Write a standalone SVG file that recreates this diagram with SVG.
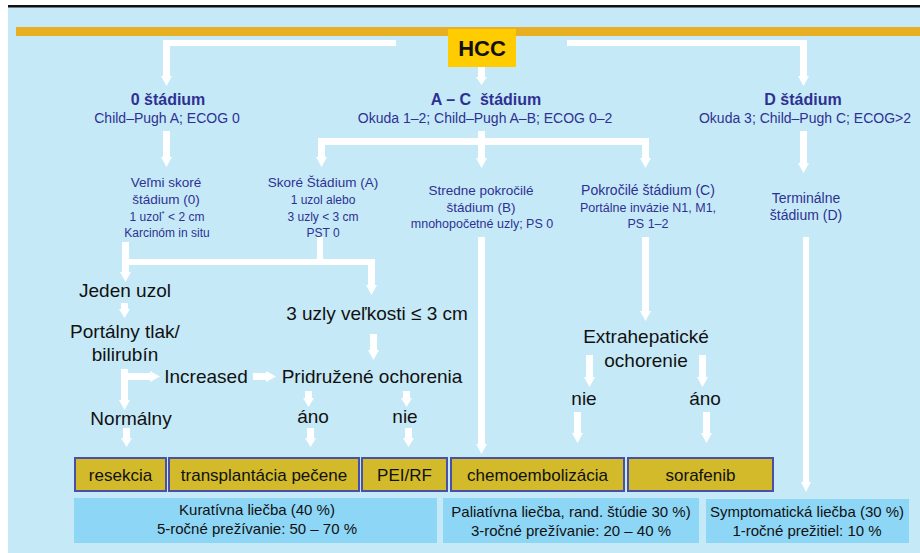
<svg xmlns="http://www.w3.org/2000/svg" width="920" height="553" viewBox="0 0 920 553">
<style>
text{font-family:"Liberation Sans",Arial,sans-serif}
.nv{fill:#2E3192;text-anchor:middle}
.hd{font-size:16px;font-weight:bold}
.sub{font-size:14px}
.s1{font-size:13.5px}
.s2{font-size:12px}
.bk{fill:#111;text-anchor:middle;font-size:19px}
.tb{fill:#D2BA2A;stroke:#4A50A8;stroke-width:2}
.tt{fill:#111;text-anchor:middle;font-size:17px}
.rb{fill:#8ED6F6}
.rt{fill:#111;text-anchor:middle;font-size:15px}
.w{fill:#fff}
</style>
<rect x="0" y="0" width="920" height="553" fill="#fff"/>
<rect x="8" y="7" width="912" height="546" fill="#C6E9F8"/>
<rect x="8" y="5" width="912" height="2.5" fill="#111"/>
<rect x="16" y="27" width="904" height="9" fill="#E6B022"/>

<g id="connectors" class="w">
  <polygon points="396,40 163,40 163,76 161,76 166.5,86 172,76 170,76 170,46 396,46"/>
  <polygon points="567,40 807,40 807,76 809,76 803.5,86 798,76 800,76 800,46 567,46"/>
  <polygon points="478,67 485,67 485,77 487,77 481.5,85 476,77 478,77"/>
  <polygon points="163,131 170,131 170,157 172,157 166.5,167 161,157 163,157"/>
  <rect x="478" y="131" width="7" height="8"/>
  <rect x="318" y="138" width="331" height="7"/>
  <polygon points="318,144 325,144 325,157 327,157 321.5,167 316,157 318,157"/>
  <polygon points="478,144 485,144 485,158 487,158 481.5,168 476,158 478,158"/>
  <polygon points="642,144 649,144 649,158 651,158 645.5,168 640,158 642,158"/>
  <polygon points="800,131 807,131 807,163 809,163 803.5,173 798,163 800,163"/>
  <polygon points="122,242 129,242 129,272 131,272 125.5,282 120,272 122,272"/>
  <rect x="122" y="259" width="253" height="6"/>
  <rect x="317" y="237" width="6" height="23"/>
  <polygon points="368,259 375,259 375,285 377,285 371.5,295 366,285 368,285"/>
  <polygon points="121,303 128,303 128,309 130,309 124.5,318 119,309 121,309"/>
  <polygon points="121,369 128,369 128,400 130,400 124.5,410 119,400 121,400"/>
  <polygon points="128,373 150,373 150,371 160,376.5 150,382 150,380 128,380"/>
  <polygon points="253,373 266,373 266,371 276,376.5 266,382 266,380 253,380"/>
  <polygon points="370,334 377,334 377,350 379,350 373.5,360 368,350 370,350"/>
  <polygon points="305,391 312,391 312,398 314,398 308.5,407 303,398 305,398"/>
  <polygon points="403,391 410,391 410,398 412,398 406.5,407 401,398 403,398"/>
  <polygon points="123,428 130,428 130,438 132,438 126.5,447 121,438 123,438"/>
  <polygon points="307,428 314,428 314,438 316,438 310.5,447 305,438 307,438"/>
  <polygon points="405,428 412,428 412,438 414,438 408.5,447 403,438 405,438"/>
  <polygon points="478,237 485,237 485,444 487,444 481.5,454 476,444 478,444"/>
  <polygon points="642,237 649,237 649,311 651,311 645.5,321 640,311 642,311"/>
  <polygon points="586,355 593,355 593,377 595,377 589.5,387 584,377 586,377"/>
  <polygon points="699,355 706,355 706,377 708,377 702.5,387 697,377 699,377"/>
  <polygon points="574,412 581,412 581,433 583,433 577.5,443 572,433 574,433"/>
  <polygon points="703,412 710,412 710,433 712,433 706.5,443 701,433 703,433"/>
  <polygon points="803,237 809,237 809,482 811,482 806,492 801,482 803,482"/>
</g>

<g id="hcc">
  <rect x="448" y="29" width="68" height="38" fill="#FFCC00"/>
  <text x="482" y="56" text-anchor="middle" font-size="22" font-weight="bold" fill="#111">HCC</text>
</g>

<g id="stage0">
  <text class="nv hd" x="168" y="105">0 štádium</text>
  <text class="nv sub" x="167" y="123">Child–Pugh A; ECOG 0</text>
</g>
<g id="stageAC">
  <text class="nv hd" x="486" y="105" xml:space="preserve">A – C  štádium</text>
  <text class="nv sub" x="485" y="123">Okuda 1–2; Child–Pugh A–B; ECOG 0–2</text>
</g>
<g id="stageD">
  <text class="nv hd" x="803" y="105">D štádium</text>
  <text class="nv sub" x="805" y="123">Okuda 3; Child–Pugh C; ECOG&gt;2</text>
</g>

<g id="veryEarly">
  <text class="nv s1" x="166" y="187">Veľmi skoré</text>
  <text class="nv s1" x="166" y="204">štádium (0)</text>
  <text class="nv s2" x="167" y="221">1 uzol<tspan font-size="8" dy="-5">*</tspan><tspan dy="5"> &lt; 2 cm</tspan></text>
  <text class="nv s2" x="167" y="237">Karcinóm in situ</text>
</g>
<g id="early">
  <text class="nv s1" x="323" y="187">Skoré Štádium (A)</text>
  <text class="nv s2" x="323" y="204">1 uzol alebo</text>
  <text class="nv s2" x="323" y="221">3 uzly &lt; 3 cm</text>
  <text class="nv s2" x="323" y="237">PST 0</text>
</g>
<g id="intermediate">
  <text class="nv s1" x="481" y="195">Stredne pokročilé</text>
  <text class="nv s1" x="481" y="212">štádium (B)</text>
  <text class="nv" x="482" y="228" font-size="12.5">mnohopočetné uzly; PS 0</text>
</g>
<g id="advanced">
  <text class="nv" x="648" y="195" font-size="14">Pokročilé štádium (C)</text>
  <text class="nv" x="648" y="212" font-size="12.5">Portálne invázie N1, M1,</text>
  <text class="nv" x="648" y="228" font-size="12.5">PS 1–2</text>
</g>
<g id="terminal">
  <text class="nv" x="806" y="203" font-size="14">Terminálne</text>
  <text class="nv" x="806" y="220" font-size="14">štádium (D)</text>
</g>

<g id="single"><text class="bk" x="125" y="297">Jeden uzol</text></g>
<g id="portal">
  <text class="bk" x="125" y="338">Portálny tlak/</text>
  <text class="bk" x="125" y="361">bilirubín</text>
</g>
<g id="increased"><text class="bk" x="206" y="383">Increased</text></g>
<g id="normal"><text class="bk" x="131" y="425">Normálny</text></g>
<g id="three"><text class="bk" x="377" y="320">3 uzly veľkosti ≤ 3 cm</text></g>
<g id="assoc"><text class="bk" x="372" y="383">Pridružené ochorenia</text></g>
<g id="ano1"><text class="bk" x="313" y="423">áno</text></g>
<g id="nie1"><text class="bk" x="405" y="423">nie</text></g>
<g id="extra">
  <text class="bk" x="646" y="343">Extrahepatické</text>
  <text class="bk" x="646" y="367">ochorenie</text>
</g>
<g id="nie2"><text class="bk" x="584" y="405">nie</text></g>
<g id="ano2"><text class="bk" x="705" y="405">áno</text></g>

<g id="t-resekcia"><rect class="tb" x="75" y="458" width="91" height="33"/><text class="tt" x="120.5" y="481">resekcia</text></g>
<g id="t-transpl"><rect class="tb" x="169" y="458" width="190" height="33"/><text class="tt" x="264" y="481">transplantácia pečene</text></g>
<g id="t-pei"><rect class="tb" x="362" y="458" width="85" height="33"/><text class="tt" x="404.5" y="481">PEI/RF</text></g>
<g id="t-chemo"><rect class="tb" x="451" y="458" width="173" height="33"/><text class="tt" x="537.5" y="481">chemoembolizácia</text></g>
<g id="t-sora"><rect class="tb" x="628" y="458" width="145" height="33"/><text class="tt" x="700.5" y="481">sorafenib</text></g>

<g id="r-curative">
  <rect class="rb" x="74" y="498" width="363" height="45"/>
  <text class="rt" x="257" y="515">Kuratívna liečba (40 %)</text>
  <text class="rt" x="257" y="534">5-ročné prežívanie: 50 – 70 %</text>
</g>
<g id="r-palliative">
  <rect class="rb" x="443" y="498" width="256" height="45"/>
  <text class="rt" x="571" y="517">Paliatívna liečba, rand. štúdie 30 %)</text>
  <text class="rt" x="571" y="536">3-ročné prežívanie: 20 – 40 %</text>
</g>
<g id="r-symptomatic">
  <rect class="rb" x="706" y="499" width="203" height="44"/>
  <text class="rt" x="807" y="517">Symptomatická liečba (30 %)</text>
  <text class="rt" x="807" y="536">1-ročné prežitiel: 10 %</text>
</g>
</svg>
